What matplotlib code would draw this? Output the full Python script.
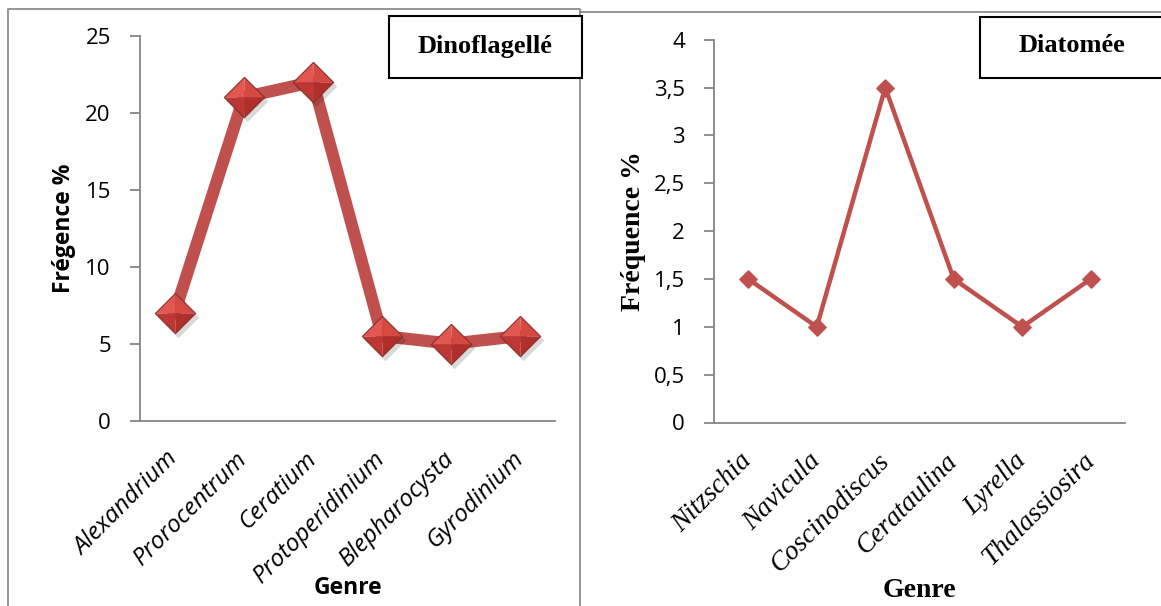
import numpy as np
import matplotlib
matplotlib.use("Agg")
import matplotlib.pyplot as plt
from matplotlib.path import Path
from matplotlib.patches import Rectangle
from matplotlib.lines import Line2D
from matplotlib.transforms import offset_copy

# data
dino_genres = ['Alexandrium', 'Prorocentrum', 'Ceratium', 'Protoperidinium',
               'Blepharocysta', 'Gyrodinium']
dino_freq = [7.0, 21.0, 22.0, 5.5, 5.0, 5.5]
dino_yticks = [0, 5, 10, 15, 20, 25]

diat_genres = ['Nitzschia', 'Navicula', 'Coscinodiscus', 'Cerataulina',
               'Lyrella', 'Thalassiosira']
diat_freq = [1.5, 1.0, 3.5, 1.5, 1.0, 1.5]
diat_yticks = [0, 0.5, 1, 1.5, 2, 2.5, 3, 3.5, 4]
diat_yticklabels = ['0', '0,5', '1', '1,5', '2', '2,5', '3', '3,5', '4']

W, H = 1161, 606
RED = '#C0504D'
GRAY = '#868686'
SANS = 'Open Sans'
SERIF = 'Liberation Serif'

fig = plt.figure(figsize=(W / 100, H / 100), dpi=100)


def fx(x):
    return x / W


def fy(y):
    return 1 - y / H


def style_axes(ax, ymax, yticks, yticklabels, tickfont, labelsize, pad):
    for s in ['top', 'right']:
        ax.spines[s].set_visible(False)
    for s in ['left', 'bottom']:
        ax.spines[s].set_color(GRAY)
        ax.spines[s].set_linewidth(1.3)
    ax.set_xlim(-0.5, 5.5)
    ax.set_ylim(0, ymax)
    ax.set_yticks(yticks)
    ax.set_yticklabels(yticklabels, family=SANS, fontsize=16)
    ax.tick_params(axis='y', direction='out', length=7, width=1.3, color=GRAY, pad=14)
    ax.tick_params(axis='x', length=0, pad=pad)
    for lab in ax.get_xticklabels():
        lab.set_rotation(45)
        lab.set_ha('right')
        lab.set_va('center')
        lab.set_rotation_mode('anchor')
        lab.set_family(tickfont)
        lab.set_style('italic')
        lab.set_fontsize(labelsize)


# ---- left panel: Dinoflagellé
ax1 = fig.add_axes([fx(140), fy(420.7), 415 / W, 385 / H])
x1 = np.arange(len(dino_genres))
ax1.plot(x1, dino_freq, color=RED, lw=8.8, solid_joinstyle='miter', zorder=2)

# diamond facets for the bevelled marker look
facets = [
    ([(0, 0), (-1, 0), (0, 1), (0, 0)], '#E2574F'),
    ([(0, 0), (0, 1), (1, 0), (0, 0)], '#D64842'),
    ([(0, 0), (1, 0), (0, -1), (0, 0)], '#B02F2B'),
    ([(0, 0), (0, -1), (-1, 0), (0, 0)], '#BF3732'),
]
diamond = Path([(0, 1), (1, 0), (0, -1), (-1, 0), (0, 1)])
shadow_tr = offset_copy(ax1.transData, fig=fig, x=3, y=-4, units='dots')
ax1.plot(x1, dino_freq, ls='none', marker=diamond, ms=30, mfc='#000000',
         mec='none', alpha=0.15, transform=shadow_tr, zorder=3)
for verts, col in facets:
    ax1.plot(x1, dino_freq, ls='none', marker=Path(verts), ms=29, mfc=col,
             mec='none', zorder=4)
ax1.plot(x1, dino_freq, ls='none', marker=diamond, ms=29, mfc='none',
         mec='#86302C', mew=0.8, zorder=5)

ax1.set_xticks(x1)
ax1.set_xticklabels(dino_genres)
style_axes(ax1, 25, dino_yticks, [str(v) for v in dino_yticks], SANS, 17.5, 25)
ax1.set_ylabel('Frégence %', family=SANS, fontweight='bold', fontsize=16.5, va='center')
ax1.yaxis.set_label_coords(-0.183, 0.5)
ax1.set_xlabel('Genre', family=SANS, fontweight='bold', fontsize=16.5, va='center')
ax1.xaxis.set_label_coords(0.5, -0.434)

# ---- right panel: Diatomée
ax2 = fig.add_axes([fx(714), fy(422.5), 411 / W, 382.7 / H])
x2 = np.arange(len(diat_genres))
ax2.plot(x2, diat_freq, color=RED, lw=3.2, marker=diamond, ms=12.5,
         mfc=RED, mec=RED, solid_joinstyle='miter')
ax2.set_xticks(x2)
ax2.set_xticklabels(diat_genres)
style_axes(ax2, 4, diat_yticks, diat_yticklabels, SERIF, 19.5, 25)
ax2.set_ylabel('Fréquence %', family=SERIF, fontweight='bold', fontsize=20, va='center')
ax2.yaxis.set_label_coords(-0.197, 0.5)
ax2.set_xlabel('Genre', family=SERIF, fontweight='bold', fontsize=20, va='center')
ax2.xaxis.set_label_coords(0.5, -0.44)

# ---- outer frames
frame_kw = dict(color='#8C8C8C', lw=1.3, transform=fig.transFigure)
fig.add_artist(Line2D([fx(8), fx(8), fx(580), fx(580)],
                      [fy(H + 5), fy(9), fy(9), fy(H + 5)], **frame_kw))
fig.add_artist(Line2D([fx(580), fx(W + 5)], [fy(12), fy(12)], **frame_kw))

# ---- title boxes
fig.add_artist(Rectangle((fx(389), fy(78)), fx(582) - fx(389), fy(16) - fy(78),
                         transform=fig.transFigure, fill=True, fc='white',
                         ec='black', lw=1.5, zorder=10))
fig.text(fx(485.5), fy(46), 'Dinoflagellé', family=SERIF, fontweight='bold',
         fontsize=19, ha='center', va='center', zorder=11)
fig.add_artist(Rectangle((fx(980), fy(78)), fx(1166) - fx(980), fy(17) - fy(78),
                         transform=fig.transFigure, fill=True, fc='white',
                         ec='black', lw=1.5, zorder=10))
fig.text(fx(1072), fy(46), 'Diatomée', family=SERIF, fontweight='bold',
         fontsize=19, ha='center', va='center', zorder=11)

fig.savefig('out.png', dpi=100)
